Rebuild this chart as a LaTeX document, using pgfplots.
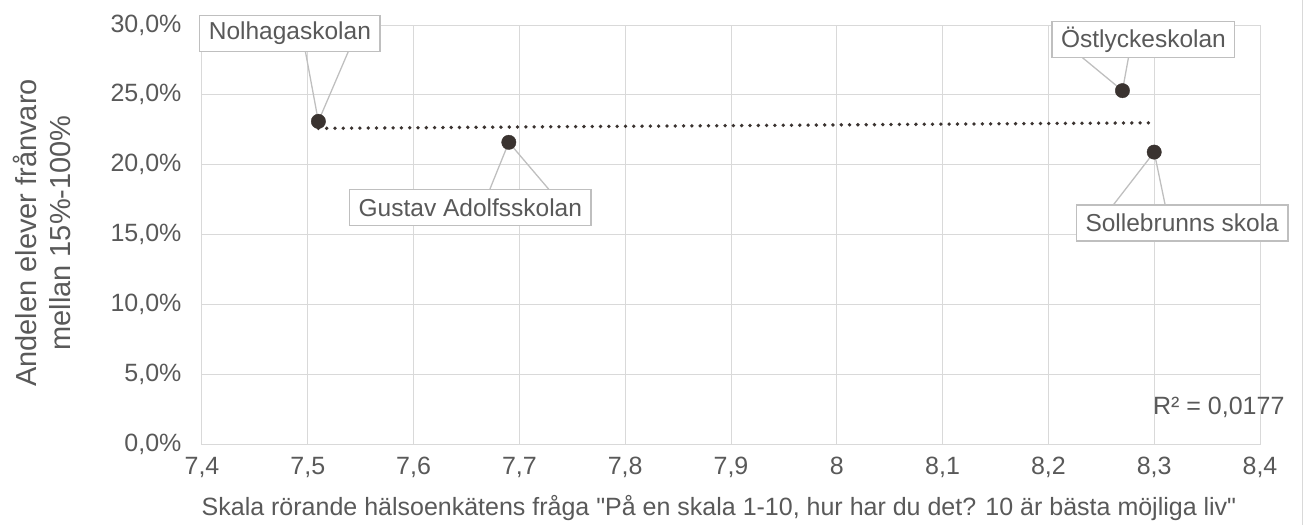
\documentclass[border=0pt]{standalone}
\usepackage{fontspec}
\setmainfont{Liberation Sans}[Ligatures=TeXOff]
\usepackage{pgfplots}
\pgfplotsset{compat=1.18}
\definecolor{txt}{HTML}{595959}
\definecolor{grd}{HTML}{D9D9D9}
\definecolor{bx}{HTML}{BFBFBF}
\definecolor{pt}{HTML}{3A3330}
\tikzset{cbox/.style={draw=bx, fill=white, line width=1.3pt, text=txt,
  font=\fontsize{24.5}{28}\selectfont, inner xsep=9pt, inner ysep=0pt,
  minimum height=36pt, anchor=center},
  cline/.style={draw=bx, line width=1.3pt}}
\begin{document}
\begin{tikzpicture}
\useasboundingbox (-202pt,-81pt) rectangle (1108pt,444pt);
\begin{axis}[
  at={(0pt,0pt)}, anchor=south west,
  scale only axis, width=1058pt, height=419pt,
  xmin=7.4, xmax=8.4, ymin=0, ymax=30,
  xtick={7.4,7.5,7.6,7.7,7.8,7.9,8.0,8.1,8.2,8.3,8.4},
  xticklabels={{7,4},{7,5},{7,6},{7,7},{7,8},{7,9},{8},{8,1},{8,2},{8,3},{8,4}},
  ytick={0,5,10,15,20,25,30},
  yticklabels={{0,0\%},{5,0\%},{10,0\%},{15,0\%},{20,0\%},{25,0\%},{30,0\%}},
  grid=major, major grid style={draw=grd, line width=1pt},
  axis line style={draw=grd, line width=1pt},
  tick style={draw=none},
  ticklabel style={font=\fontsize{25}{29}\selectfont, text=txt},
  yticklabel style={xshift=-17pt},
  xticklabel style={yshift=-10pt},
  clip=false,
]
% callouts
\draw[cline] ([xshift=-13pt,yshift=70pt]axis cs:7.51,23.1) -- (axis cs:7.51,23.1) -- ([xshift=30pt,yshift=70pt]axis cs:7.51,23.1);
\node[cbox] at ([xshift=-28.5pt,yshift=88pt]axis cs:7.51,23.1) {Nolhagaskolan};
\draw[cline] ([xshift=-19pt,yshift=-47pt]axis cs:7.69,21.6) -- (axis cs:7.69,21.6) -- ([xshift=40pt,yshift=-47pt]axis cs:7.69,21.6);
\node[cbox] at ([xshift=-38.5pt,yshift=-65.5pt]axis cs:7.69,21.6) {Gustav Adolfsskolan};
\draw[cline] ([xshift=-40pt,yshift=33pt]axis cs:8.27,25.3) -- (axis cs:8.27,25.3) -- ([xshift=6pt,yshift=33pt]axis cs:8.27,25.3);
\node[cbox] at ([xshift=21pt,yshift=51pt]axis cs:8.27,25.3) {Östlyckeskolan};
\draw[cline] ([xshift=-41pt,yshift=-53pt]axis cs:8.30,20.9) -- (axis cs:8.30,20.9) -- ([xshift=11pt,yshift=-53pt]axis cs:8.30,20.9);
\node[cbox] at ([xshift=28pt,yshift=-71pt]axis cs:8.30,20.9) {Sollebrunns skola};
% trendline
\addplot[pt, line width=3.8pt, dash pattern=on 0pt off 8.3pt, line cap=round] coordinates {(7.51,22.6) (8.30,23.0)};
% data
\addplot[only marks, mark=*, mark size=7.2pt, mark options={fill=pt, draw=pt}] coordinates {
  (7.51,23.1) (7.69,21.6) (8.27,25.3) (8.30,20.9)};
\end{axis}
\node[rotate=90, align=center, text=txt, font=\fontsize{29}{34}\selectfont] at (-160pt,211pt) {Andelen elever frånvaro\\mellan 15\%-100\%};
\node[text=txt, font=\fontsize{25}{29}\selectfont] at (517pt,-64pt) {Skala rörande hälsoenkätens fråga "På en skala 1-10, hur har du det? 10 är bästa möjliga liv"};
\node[anchor=east, text=txt, font=\fontsize{25}{29}\selectfont] at (1086pt,37pt) {R² = 0,0177};
\draw[grd, line width=1pt] (1100pt,-81pt) -- (1100pt,444pt);
\end{tikzpicture}
\end{document}
